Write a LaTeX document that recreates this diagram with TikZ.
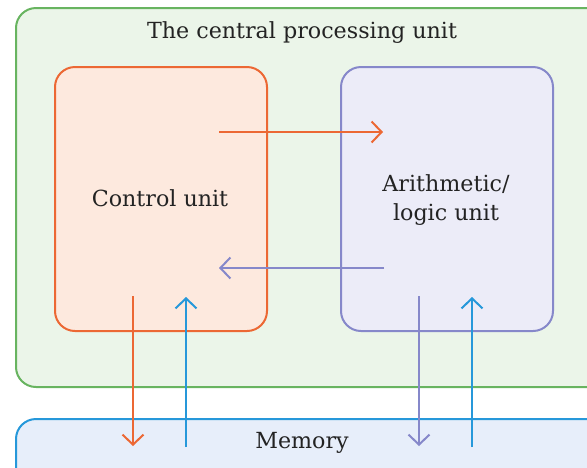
\documentclass[tikz,border=0pt]{standalone}
\usepackage{fontspec}
\setmainfont{DejaVu Serif}
\usetikzlibrary{arrows.meta}

\definecolor{cpuLine}{RGB}{104,180,96}
\definecolor{cpuFill}{RGB}{235,245,233}
\definecolor{cuLine}{RGB}{236,104,52}
\definecolor{cuFill}{RGB}{253,233,222}
\definecolor{aluLine}{RGB}{134,136,202}
\definecolor{aluFill}{RGB}{236,236,248}
\definecolor{memLine}{RGB}{38,152,218}
\definecolor{memFill}{RGB}{231,238,250}
\definecolor{ink}{RGB}{35,35,35}

\begin{document}
\begin{tikzpicture}[x=1pt,y=-1pt,
  box/.style={draw, line width=2pt, rounded corners=20pt, inner sep=0pt, anchor=north west},
  lbl/.style={text=ink, font=\fontsize{22.2}{29}\selectfont, align=center},
  flow/.style={line width=2pt, -{Straight Barb[length=10pt,width=21pt]}}]

\clip (0,0) rectangle (587,467);

% boxes
\node[box, draw=cpuLine, fill=cpuFill, minimum width=600pt, minimum height=379pt] (cpu) at (15,7) {};
\node[box, draw=cuLine, fill=cuFill, minimum width=212pt, minimum height=264pt] (cu) at (54,66) {};
\node[box, draw=aluLine, fill=aluFill, minimum width=212pt, minimum height=264pt] (alu) at (340,66) {};
\node[box, draw=memLine, fill=memFill, minimum width=600pt, minimum height=80pt] (mem) at (15,418) {};

% labels
\node[lbl] (cpu-text) at (302,33) {The central processing unit};
\node[lbl] (cu-text) at (160,198) {Control unit};
\node[lbl] (alu-text) at (446,200) {Arithmetic/\\logic unit};
\node[lbl] (mem-text) at (302,443) {Memory};

% arrow ends
\coordinate (cu-out) at (219,132);
\coordinate (alu-in) at (383,132);
\coordinate (alu-out) at (384,268);
\coordinate (cu-in) at (219,268);
\coordinate (cu-down) at (133,296);
\coordinate (mem-a) at (133,446);
\coordinate (mem-b) at (186,447);
\coordinate (cu-up) at (186,297);
\coordinate (alu-down) at (419,296);
\coordinate (mem-c) at (419,446);
\coordinate (mem-d) at (472,447);
\coordinate (alu-up) at (472,297);

% arrows
\draw[flow, cuLine] (cu-out) -- (alu-in);
\draw[flow, aluLine] (alu-out) -- (cu-in);
\draw[flow, cuLine] (cu-down) -- (mem-a);
\draw[flow, memLine] (mem-b) -- (cu-up);
\draw[flow, aluLine] (alu-down) -- (mem-c);
\draw[flow, memLine] (mem-d) -- (alu-up);

\end{tikzpicture}
\end{document}
